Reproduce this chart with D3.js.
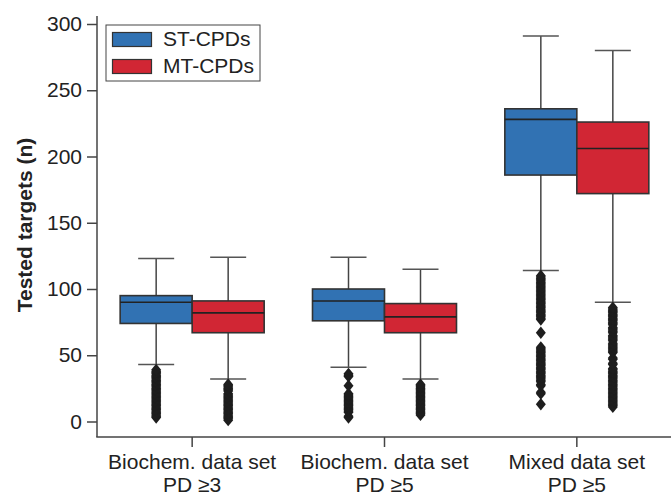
<!DOCTYPE html>
<html>
<head>
<meta charset="utf-8">
<script src="https://cdn.jsdelivr.net/npm/d3@7"></script>
<style>
  body { margin: 0; background: #fff; }
  text { font-family: "Liberation Sans", Arial, sans-serif; fill: #222; }
</style>
</head>
<body>
<div id="chart"></div>
<script>
var groups = ["g1", "g2", "g3"];
var groupLine1 = ["Biochem. data set", "Biochem. data set", "Mixed data set"];
var groupLine2 = ["PD \u22653", "PD \u22655", "PD \u22655"];
var series = ["ST-CPDs", "MT-CPDs"];
var colors = ["#3172b3", "#d12634"];
var yTicks = [0, 50, 100, 150, 200, 250, 300];

// box stats per group
var stLow = [43, 41, 114];
var stQ1 = [74, 76, 186];
var stMed = [90, 91, 228];
var stQ3 = [95, 100, 236];
var stHigh = [123, 124, 291];

var mtLow = [32, 32, 90];
var mtQ1 = [67, 67, 172];
var mtMed = [82, 79, 206];
var mtQ3 = [91, 89, 226];
var mtHigh = [124, 115, 280];

// outliers (integer counts)
var stOut1 = [3,4,5,6,7,8,9,10,11,12,13,14,15,16,17,18,19,20,21,22,23,24,25,26,27,28,29,30,31,32,33,34,35,36,37,38,39];
var stOut2 = [3,4,7,8,9,10,11,12,13,14,15,16,17,18,19,20,21,27,34,35,36];
var stOut3 = [13,21,22,27,28,30,31,32,33,34,35,36,37,38,39,40,41,42,43,44,45,46,47,48,49,50,51,52,53,54,55,56,67,
  77,78,79,80,81,82,83,84,85,86,87,88,89,90,91,92,93,94,95,96,97,98,99,100,101,102,103,104,105,106,107,108,109,110];
var mtOut1 = [1,2,3,4,5,6,7,8,9,10,11,12,13,14,15,16,17,18,19,20,21,23,24,25,26,27,28];
var mtOut2 = [5,6,7,8,9,10,11,12,13,14,15,16,17,18,19,20,21,22,23,24,25,26,27,28];
var mtOut3 = [11,12,13,14,15,16,17,18,19,20,21,22,23,24,25,26,27,28,29,30,31,32,33,34,35,36,37,38,39,40,43,44,47,48,
  52,53,54,55,56,57,58,59,61,62,63,64,65,67,68,69,70,71,73,74,75,76,77,78,79,80,81,82,83,84,85,86];

var width = 671, height = 496;
var svg = d3.select("#chart").append("svg")
  .attr("width", width)
  .attr("height", height);

var axisX = 97, axisY = 437;

var x = d3.scaleBand().domain(groups).range([96, 673]).padding(0);
var y = d3.scaleLinear().domain([0, 300]).range([421.5, 24]);
var boxW = 72;

var boxes = [];
groups.forEach(function(g, i) {
  boxes.push({g: g, s: 0, low: stLow[i], q1: stQ1[i], med: stMed[i], q3: stQ3[i], high: stHigh[i], out: [stOut1, stOut2, stOut3][i]});
  boxes.push({g: g, s: 1, low: mtLow[i], q1: mtQ1[i], med: mtMed[i], q3: mtQ3[i], high: mtHigh[i], out: [mtOut1, mtOut2, mtOut3][i]});
});

function cx(d) {
  var c = x(d.g) + x.bandwidth() / 2;
  return d.s === 0 ? c - boxW / 2 : c + boxW / 2;
}

// axes
var yAxis = d3.axisLeft(y).tickValues(yTicks).tickSize(10).tickPadding(5);
var yG = svg.append("g").attr("transform", "translate(" + axisX + ",0)").call(yAxis);
yG.select(".domain").remove();
yG.selectAll("line").attr("stroke", "#444").attr("stroke-width", 1.5);
yG.selectAll("text").style("font-size", "21px").style("font-family", "Liberation Sans, Arial, sans-serif").attr("fill", "#222");

svg.append("line")
  .attr("x1", axisX).attr("x2", axisX)
  .attr("y1", 16).attr("y2", axisY)
  .attr("stroke", "#444").attr("stroke-width", 1.5);

var xAxis = d3.axisBottom(x).tickSize(10).tickFormat("");
var xG = svg.append("g").attr("transform", "translate(0," + axisY + ")").call(xAxis);
xG.select(".domain").remove();
xG.selectAll("line").attr("stroke", "#444").attr("stroke-width", 1.5);

svg.append("line")
  .attr("x1", axisX - 0.75).attr("x2", width)
  .attr("y1", axisY).attr("y2", axisY)
  .attr("stroke", "#444").attr("stroke-width", 1.5);

var labels = svg.append("g");
groups.forEach(function(g, i) {
  var t = labels.append("text")
    .attr("text-anchor", "middle")
    .style("font-size", "21px");
  t.append("tspan").attr("x", x(g) + x.bandwidth() / 2).attr("y", 469).text(groupLine1[i]);
  t.append("tspan").attr("x", x(g) + x.bandwidth() / 2).attr("y", 492).text(groupLine2[i]);
});

svg.append("text")
  .attr("transform", "translate(32,225) rotate(-90)")
  .attr("text-anchor", "middle")
  .style("font-size", "21px")
  .style("font-weight", "bold")
  .text("Tested targets (n)");

// whiskers
var bx = svg.append("g");
boxes.forEach(function(d) {
  var c = cx(d);
  bx.append("line").attr("x1", c).attr("x2", c).attr("y1", y(d.q3)).attr("y2", y(d.high))
    .attr("stroke", "#444").attr("stroke-width", 1.5);
  bx.append("line").attr("x1", c).attr("x2", c).attr("y1", y(d.q1)).attr("y2", y(d.low))
    .attr("stroke", "#444").attr("stroke-width", 1.5);
  bx.append("line").attr("x1", c - boxW / 4).attr("x2", c + boxW / 4).attr("y1", y(d.high)).attr("y2", y(d.high))
    .attr("stroke", "#555").attr("stroke-width", 1.5);
  bx.append("line").attr("x1", c - boxW / 4).attr("x2", c + boxW / 4).attr("y1", y(d.low)).attr("y2", y(d.low))
    .attr("stroke", "#555").attr("stroke-width", 1.5);
});

// boxes
boxes.forEach(function(d) {
  var c = cx(d);
  bx.append("rect")
    .attr("x", c - boxW / 2).attr("width", boxW)
    .attr("y", y(d.q3)).attr("height", y(d.q1) - y(d.q3))
    .attr("fill", colors[d.s])
    .attr("stroke", "#333").attr("stroke-width", 1.6);
  bx.append("line")
    .attr("x1", c - boxW / 2).attr("x2", c + boxW / 2)
    .attr("y1", y(d.med)).attr("y2", y(d.med))
    .attr("stroke", "#222").attr("stroke-width", 1.6);
});

// outliers
var diamond = d3.symbol().type(d3.symbolDiamond).size(44);
boxes.forEach(function(d) {
  var c = cx(d);
  bx.selectAll(null).data(d.out).enter().append("path")
    .attr("d", diamond)
    .attr("transform", function(v) { return "translate(" + c + "," + y(v) + ") scale(1.4,1)"; })
    .attr("fill", "#1e1e1e");
});

// legend
var lg = svg.append("g");
lg.append("rect").attr("x", 106).attr("y", 25).attr("width", 154).attr("height", 56)
  .attr("fill", "#fff").attr("stroke", "#444").attr("stroke-width", 1);
series.forEach(function(s, i) {
  lg.append("rect").attr("x", 112.5).attr("y", 32.5 + i * 27).attr("width", 39).attr("height", 14)
    .attr("fill", colors[i]).attr("stroke", "#333").attr("stroke-width", 1.2);
  lg.append("text").attr("x", 163).attr("y", 46 + i * 27)
    .style("font-size", "21px").text(s);
});
</script>
</body>
</html>
